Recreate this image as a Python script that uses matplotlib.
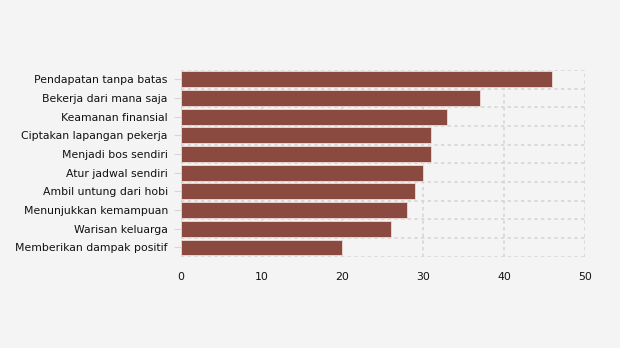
import matplotlib.pyplot as plt
import numpy as np

categories = [
    "Pendapatan tanpa batas",
    "Bekerja dari mana saja",
    "Keamanan finansial",
    "Ciptakan lapangan pekerja",
    "Menjadi bos sendiri",
    "Atur jadwal sendiri",
    "Ambil untung dari hobi",
    "Menunjukkan kemampuan",
    "Warisan keluarga",
    "Memberikan dampak positif",
]
values = [46, 37, 33, 31, 31, 30, 29, 28, 26, 20]
x_ticks = [0, 10, 20, 30, 40, 50]

bg = "#f4f4f4"
bar_color = "#8b4a3f"
grid_color = "#d6d6d6"

fig = plt.figure(figsize=(6.2, 3.48), dpi=100, facecolor=bg)
ax = fig.add_axes([0.292, 0.262, 0.651, 0.537], facecolor=bg)

y = np.arange(len(categories))
ax.barh(y, values, height=0.85, color=bar_color, edgecolor="#f0dcd8", linewidth=0.6, zorder=2)

ax.set_xlim(0, 50)
ax.set_ylim(len(categories) - 0.5, -0.5)
ax.set_xticks(x_ticks)
ax.set_xticklabels([str(t) for t in x_ticks])
ax.set_yticks(y)
ax.set_yticklabels(categories)
ax.set_yticks(np.arange(-0.5, len(categories), 1), minor=True)

# dotted grid: vertical at x ticks, horizontal between categories
ax.grid(True, axis="x", which="major", color=grid_color, linestyle=(0, (2, 2)), linewidth=1.2, zorder=1)
ax.grid(True, axis="y", which="minor", color=grid_color, linestyle=(0, (2, 2)), linewidth=1.2, zorder=1)
ax.grid(False, axis="y", which="major")

for s in ax.spines.values():
    s.set_visible(False)

ax.tick_params(axis="y", which="major", length=5, color=grid_color, labelsize=7.8, labelcolor="#111111", pad=4.5)
ax.tick_params(axis="y", which="minor", length=0)
ax.tick_params(axis="x", length=0, labelsize=7.8, labelcolor="#111111", pad=11)

fig.savefig("out.png", dpi=100, facecolor=bg)
